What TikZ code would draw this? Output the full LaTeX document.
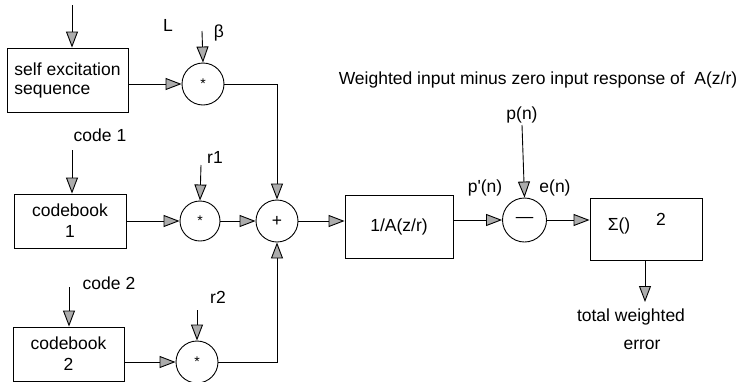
\documentclass[tikz,border=0pt]{standalone}
\usepackage{fontspec}
\setmainfont{Liberation Sans}
\newfontfamily\plainfont{Liberation Sans}
\usetikzlibrary{arrows.meta}

\newcommand{\mulsign}{{\fontsize{14}{14}\selectfont\raisebox{-0.3em}{*}}}

\begin{document}
\begin{tikzpicture}[x=1pt, y=-1pt, line width=0.9pt,
  >={Triangle[length=16pt,width=12pt,fill=gray!65]},
  font=\fontsize{17.5}{21}\selectfont,
  blk/.style={draw, rectangle, inner sep=0pt},
  op/.style={draw, circle, minimum size=42pt, inner sep=0pt}]
  \useasboundingbox (0,0) rectangle (742,381);
  \node[blk, minimum width=121pt, minimum height=64pt, align=left] (self) at (67.5,80) {self excitation\\[-2pt]sequence};
  \node[blk, minimum width=112pt, minimum height=54pt, align=center] (cb1) at (70,221) {codebook\\1};
  \node[blk, minimum width=111pt, minimum height=54pt, align=center] (cb2) at (68.5,354) {codebook\\2};
  \node[op] (mulL) at (203,84) {\mulsign};
  \node[op, minimum size=40pt] (mul1) at (200,221) {\mulsign};
  \node[op] (mul2) at (197,362) {\mulsign};
  \node[op] (sum) at (277,221) {+};
  \node[blk, minimum width=108pt, minimum height=63pt] (filt) at (399,226.5) {1/A(z/r)};
  \node[op, minimum size=44pt] (minus) at (524.5,220) {---};
  \node[blk, minimum width=112pt, minimum height=62pt] (sq) at (646,229) {};
  \node (sig) at (619,226) {Σ()};
  \node (pow) at (661,219) {2};
  \node (lL) at (168,25) {L};
  \node (lB) at (219,33) {β};
  \node (lC1) at (100,135) {code 1};
  \node (lR1) at (215,157) {r1};
  \node (lC2) at (109,283) {code 2};
  \node (lR2) at (218,297) {r2};
  \node (lPp) at (485,188) {\plainfont p'(n)};
  \node (lP) at (522,115) {p(n)};
  \node (lE) at (555,188) {e(n)};
  \node[anchor=west] (title) at (335,80) {Weighted input minus zero input response of~ A(z/r)};
  \node (lTot) at (631,317) {total weighted};
  \node (lErr) at (642,345) {error};
  \coordinate (inS) at (72,5);
  \coordinate (inC1) at (72,150);
  \coordinate (inC2) at (69,287);
  \coordinate (inB) at (202,31);
  \coordinate (inR1) at (201,165);
  \coordinate (inR2) at (197,310);
  \coordinate (inP) at (522,125);
  \coordinate (out) at (645,302);
  \draw[->] (inS) -- (inS |- self.north);
  \draw[->] (inC1) -- (inC1 |- cb1.north);
  \draw[->] (inC2) -- (inC2 |- cb2.north);
  \draw[->] (inB) -- (mulL.north);
  \draw[->] (inR1) -- (mul1.north);
  \draw[->] (inR2) -- (mul2.north);
  \draw[->] (inP) -- (minus.north);
  \draw[->] (self.east |- mulL) -- (mulL.west);
  \draw[->] (cb1.east |- mul1) -- (mul1.west);
  \draw[->] (cb2.east |- mul2) -- (mul2.west);
  \draw[->] (mulL.east) -- (mulL.east -| sum) -- (sum.north);
  \draw[->] (mul1.east) -- (sum.west);
  \draw[->] (mul2.east) -- (mul2.east -| sum) -- (sum.south);
  \draw[->] (sum.east) -- (sum.east -| filt.west);
  \draw[->] (filt.east |- minus) -- (minus.west);
  \draw[->] (minus.east) -- (minus.east -| sq.west);
  \draw[->] (out |- sq.south) -- (out);
\end{tikzpicture}
\end{document}
